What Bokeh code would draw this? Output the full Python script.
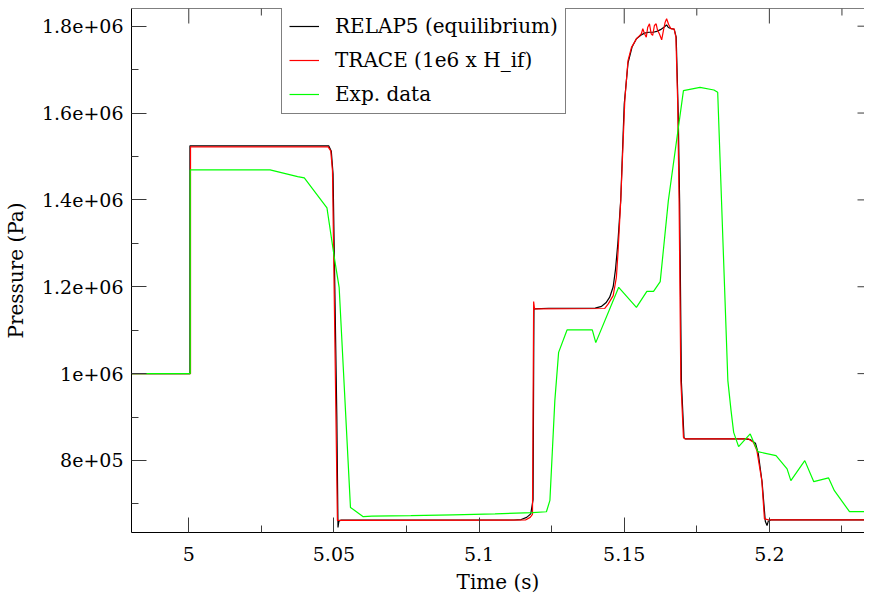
import math
from bokeh.plotting import figure
from bokeh.models import FixedTicker, Legend, LegendItem, Range1d, Span
from bokeh.embed import file_html
from bokeh.resources import INLINE

# ---------------- data ----------------
relap_t = [4.98, 5.0004, 5.0004, 5.0482, 5.0491, 5.0497, 5.0510, 5.0514, 5.0517, 5.0525,
           5.1120, 5.1145, 5.1164, 5.1178, 5.1186, 5.1189, 5.1240, 5.1400, 5.1422, 5.1437,
           5.1450, 5.1462, 5.1470, 5.1478, 5.1488, 5.1500, 5.1513, 5.1527, 5.1542, 5.1557,
           5.1570, 5.1585, 5.1600, 5.1612, 5.1625, 5.1638, 5.1646, 5.1652, 5.1660, 5.1672,
           5.1679, 5.1686, 5.1691, 5.1697, 5.1706, 5.1712, 5.1915, 5.1935, 5.1952, 5.1962,
           5.1975, 5.1986, 5.1992, 5.1996, 5.2005, 5.2400]
relap_p = [1.0e6, 1.0e6, 1.5245e6, 1.5245e6, 1.512e6, 1.46e6, 9.0e5, 6.46e5, 6.6e5, 6.63e5,
           6.63e5, 6.64e5, 6.69e5, 6.77e5, 7.1e5, 1.149e6, 1.1505e6, 1.151e6, 1.155e6, 1.163e6,
           1.176e6, 1.2e6, 1.24e6, 1.30e6, 1.40e6, 1.62e6, 1.715e6, 1.752e6, 1.771e6, 1.779e6,
           1.784e6, 1.786e6, 1.786e6, 1.788e6, 1.792e6, 1.798e6, 1.803e6, 1.797e6, 1.795e6, 1.793e6,
           1.775e6, 1.6e6, 1.39e6, 9.8e5, 8.52e5, 8.497e5, 8.497e5, 8.48e5, 8.4e5, 8.15e5,
           7.5e5, 6.6e5, 6.5e5, 6.6e5, 6.631e5, 6.631e5]

trace_t = [4.98, 5.0006, 5.0006, 5.0480, 5.0489, 5.0495, 5.0512, 5.1160, 5.1176, 5.1184,
           5.1188, 5.1191, 5.1433, 5.1445, 5.1462, 5.1473, 5.1479, 5.1488, 5.1502, 5.1513,
           5.1525, 5.1542, 5.1553, 5.1559, 5.1564, 5.1570, 5.1576, 5.1581, 5.1587, 5.1593,
           5.1598, 5.1604, 5.1610, 5.1615, 5.1621, 5.1629, 5.1635, 5.1641, 5.1646, 5.1653,
           5.1661, 5.1672, 5.1678, 5.1684, 5.1689, 5.1695, 5.1704, 5.1709, 5.1928, 5.1945,
           5.1957, 5.1974, 5.1983, 5.1997, 5.2400]
trace_p = [1.0e6, 1.0e6, 1.522e6, 1.522e6, 1.513e6, 1.467e6, 6.62e5, 6.63e5, 6.69e5, 6.76e5,
           1.166e6, 1.149e6, 1.150e6, 1.1605e6, 1.1796e6, 1.2217e6, 1.2832e6, 1.3984e6, 1.6287e6, 1.7207e6,
           1.7513e6, 1.7707e6, 1.7783e6, 1.7825e6, 1.794e6, 1.7825e6, 1.7747e6, 1.7977e6, 1.8055e6, 1.7825e6,
           1.7786e6, 1.8016e6, 1.8055e6, 1.790e6, 1.7825e6, 1.7687e6, 1.790e6, 1.8092e6, 1.817e6, 1.804e6,
           1.794e6, 1.794e6, 1.7747e6, 1.629e6, 1.398e6, 9.84e5, 8.533e5, 8.497e5, 8.497e5, 8.418e5,
           8.227e5, 7.537e5, 6.655e5, 6.631e5, 6.631e5]

exp_t = [4.98, 5.0005, 5.0005, 5.0280, 5.0375, 5.0398, 5.0476, 5.0503, 5.0518, 5.0557,
         5.0601, 5.0631, 5.0765, 5.0910, 5.1055, 5.1184, 5.1232, 5.1244, 5.1261, 5.1274,
         5.1303, 5.1390, 5.1402, 5.1481, 5.1542, 5.1578, 5.1601, 5.1624, 5.1652, 5.1704,
         5.1761, 5.1809, 5.1822, 5.1857, 5.1868, 5.1877, 5.1894, 5.1934, 5.1960, 5.2023,
         5.2061, 5.2074, 5.2122, 5.2153, 5.2204, 5.2224, 5.2276, 5.2400]
exp_p = [1.0e6, 1.0e6, 1.469e6, 1.469e6, 1.4536e6, 1.4506e6, 1.3815e6, 1.26e6, 1.1987e6, 6.92e5,
         6.707e5, 6.72e5, 6.73e5, 6.75e5, 6.77e5, 6.8e5, 6.82e5, 7.08e5, 9.378e5, 1.049e6,
         1.1006e6, 1.1006e6, 1.0714e6, 1.1987e6, 1.1527e6, 1.1895e6, 1.1895e6, 1.2118e6, 1.3984e6, 1.6516e6,
         1.6592e6, 1.6531e6, 1.648e6, 9.84e5, 9.148e5, 8.648e5, 8.319e5, 8.612e5, 8.204e5, 8.112e5,
         7.806e5, 7.536e5, 7.997e5, 7.513e5, 7.598e5, 7.306e5, 6.822e5, 6.822e5]

series_names = ["RELAP5 (equilibrium)", "TRACE (1e6 x H_if)", "Exp. data"]

x_ticks = [5.0, 5.05, 5.1, 5.15, 5.2]
x_tick_labels = ["5", "5.05", "5.1", "5.15", "5.2"]
x_minor_ticks = [5.025, 5.075, 5.125, 5.175, 5.225]
y_ticks = [800000.0, 1000000.0, 1200000.0, 1400000.0, 1600000.0, 1800000.0]
y_tick_labels = ["8e+05", "1e+06", "1.2e+06", "1.4e+06", "1.6e+06", "1.8e+06"]
y_minor_ticks = [700000.0, 900000.0, 1100000.0, 1300000.0, 1500000.0, 1700000.0]

x_label = "Time (s)"
y_label = "Pressure (Pa)"

# ---------------- figure ----------------
FONT = "DejaVu Serif"
TICK_COLOR = "#3a3a3a"

x_rng = Range1d(4.98027, 5.23277)
y_rng = Range1d(634200, 1840700)

p = figure(width=864, height=599, output_backend="svg", toolbar_location=None,
           x_range=x_rng, y_range=y_rng,
           min_border_left=124, min_border_right=0, min_border_top=8, min_border_bottom=67,
           x_axis_label=x_label, y_axis_label=y_label)
p.grid.visible = False
p.outline_line_color = None
p.background_fill_color = "white"
p.border_fill_color = "white"

xticker = FixedTicker(ticks=x_ticks, minor_ticks=x_minor_ticks)
yticker = FixedTicker(ticks=y_ticks, minor_ticks=y_minor_ticks)


def style(ax):
    ax.major_tick_in = 15
    ax.major_tick_out = 0
    ax.minor_tick_in = 7
    ax.minor_tick_out = 0
    ax.axis_line_color = "black"
    ax.axis_line_width = 1
    ax.major_tick_line_color = TICK_COLOR
    ax.minor_tick_line_color = TICK_COLOR
    ax.major_label_text_font = FONT
    ax.major_label_text_font_size = "19px"
    ax.major_label_text_color = "black"
    ax.axis_label_text_font = FONT
    ax.axis_label_text_font_size = "20px"
    ax.axis_label_text_font_style = "normal"
    ax.axis_label_text_color = "black"


xa = p.xaxis[0]
xa.ticker = xticker
xa.major_label_overrides = dict(zip(x_ticks, x_tick_labels))
style(xa)
xa.major_label_standoff = 14
xa.axis_label_standoff = 6

ya = p.yaxis[0]
ya.ticker = yticker
ya.major_label_overrides = dict(zip(y_ticks, y_tick_labels))
style(ya)
ya.major_label_standoff = 8
ya.axis_label_standoff = 11

# top frame line and mirrored ticks (top and right edges)
p.add_layout(Span(location=y_rng.end, dimension="width", line_color="black", line_width=1))
p.ray(x=x_ticks, y=[y_rng.end] * len(x_ticks), length=15, angle=-math.pi / 2,
      length_units="screen", line_color=TICK_COLOR, line_width=1)
p.ray(x=x_minor_ticks, y=[y_rng.end] * len(x_minor_ticks), length=7, angle=-math.pi / 2,
      length_units="screen", line_color=TICK_COLOR, line_width=1)
p.ray(x=[x_rng.end] * len(y_ticks), y=y_ticks, length=7, angle=math.pi,
      length_units="screen", line_color=TICK_COLOR, line_width=1)

r_relap = p.line(relap_t, relap_p, line_color="black", line_width=1.2)
r_trace = p.line(trace_t, trace_p, line_color="#ff0000", line_width=1.2)
r_exp = p.line(exp_t, exp_p, line_color="#00ff00", line_width=1.2)

legend = Legend(items=[LegendItem(label=series_names[0], renderers=[r_relap]),
                       LegendItem(label=series_names[1], renderers=[r_trace]),
                       LegendItem(label=series_names[2], renderers=[r_exp])],
                location=(150, 418))
legend.label_text_font = FONT
legend.label_text_font_size = "20px"
legend.label_text_color = "black"
legend.border_line_color = "black"
legend.border_line_width = 1
legend.background_fill_alpha = 1.0
legend.padding = 7
legend.spacing = 10
legend.glyph_width = 30
legend.glyph_height = 24
legend.label_height = 24
legend.label_standoff = 16
legend.margin = 0
p.add_layout(legend, "center")

open("out.html", "w").write(file_html(p, INLINE))
